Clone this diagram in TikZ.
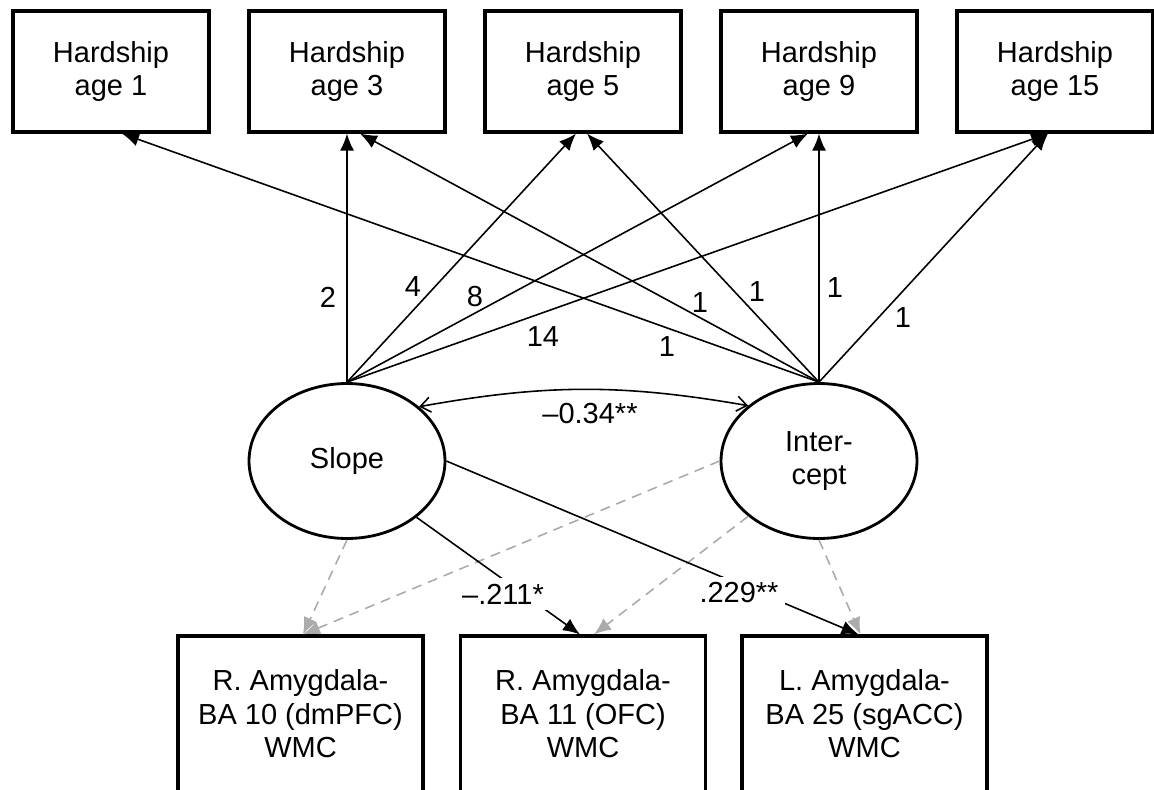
\documentclass[tikz,border=0pt]{standalone}
\usepackage{fontspec}
\setmainfont{Liberation Sans}
\usepackage{tikz}
\usetikzlibrary{arrows.meta,shapes.geometric}
\tikzstyle{every node}=[font=\fontsize{16.5pt}{19pt}\selectfont]
\tikzstyle{measure}=[draw=black,line width=1.8pt,rectangle,align=center,minimum width=3.92cm,minimum height=2.42cm,inner sep=0pt]
\tikzstyle{outcome}=[measure,minimum width=4.9cm,minimum height=3.12cm]
\tikzstyle{latent}=[draw=black,line width=1.6pt,ellipse,align=center,minimum width=3.92cm,minimum height=3.1cm,inner sep=0pt]
\tikzstyle{load}=[-{Latex[length=0.34cm,width=0.28cm]},line width=0.9pt]
\tikzstyle{nonsig}=[-{Latex[length=0.34cm,width=0.28cm]},line width=0.9pt,draw=black!33,dash pattern=on 0.2cm off 0.14cm]
\tikzstyle{covar}=[{Straight Barb[length=0.2cm,width=0.3cm]}-{Straight Barb[length=0.2cm,width=0.3cm]},line width=0.9pt]
\tikzstyle{coef}=[fill=white,inner sep=3.5pt]

\begin{document}
\begin{tikzpicture}[x=0.02cm,y=-0.02cm]
	\useasboundingbox (0,0) rectangle (1154,789);
	\clip (0,0) rectangle (1154,789);
	\node[measure] (h1) at (111,71.5) {Hardship\\age 1};
	\node[measure] (h2) at (347,71.5) {Hardship\\age 3};
	\node[measure] (h3) at (583,71.5) {Hardship\\age 5};
	\node[measure] (h4) at (819,71.5) {Hardship\\age 9};
	\node[measure] (h5) at (1055,71.5) {Hardship\\age 15};
	\node[latent] (slope) at (347,461) {Slope};
	\node[latent] (icpt) at (819,461) {Inter-\\cept};
	\node[outcome] (ra10) at (300.5,714) {R. Amygdala-\\BA 10 (dmPFC)\\WMC};
	\node[outcome] (ra11) at (583,714) {R. Amygdala-\\BA 11 (OFC)\\WMC};
	\node[outcome] (la25) at (864.5,714) {L. Amygdala-\\BA 25 (sgACC)\\WMC};

	\draw[load] (slope.north) -- (h2.south);
	\draw[load] (slope.north) -- ([xshift=-0.14cm]h3.south);
	\draw[load] (slope.north) -- ([xshift=-0.22cm]h4.south);
	\draw[load] (slope.north) -- ([xshift=-0.14cm]h5.south);
	\draw[load] (icpt.north) -- ([xshift=0.22cm]h1.south);
	\draw[load] (icpt.north) -- ([xshift=0.26cm]h2.south);
	\draw[load] (icpt.north) -- ([xshift=0.08cm]h3.south);
	\draw[load] (icpt.north) -- (h4.south);
	\draw[load] (icpt.north) -- ([xshift=-0.14cm]h5.south);
	\node (w2) at (328,297) {2};
	\node (w4) at (413,287) {4};
	\node (w8) at (475,297) {8};
	\node (w14) at (543,337) {14};
	\node (v1) at (667,347) {1};
	\node (v3) at (700,303) {1};
	\node (v5) at (757,292) {1};
	\node (v9) at (835,288) {1};
	\node (v15) at (903,318) {1};

	\draw[covar] (slope.37) to[bend left=10] (icpt.142);
	\node (cov) at (590,414) {--0.34**};

	\draw[nonsig] (slope.south) -- ([xshift=0.05cm]ra10.north);
	\draw[nonsig] (icpt.west) -- ([xshift=0.05cm]ra10.north);
	\draw[nonsig] (icpt.218) -- ([xshift=0.22cm]ra11.north);
	\draw[nonsig] (icpt.south) -- ([xshift=-0.08cm]la25.north);
	\draw[load] (slope.-39) -- ([xshift=-0.06cm]ra11.north);
	\draw[load] (slope.east) -- ([xshift=-0.12cm]la25.north);
	\node[coef] (b11) at (503,594) {--.211*};
	\node[coef] (b25) at (739,593) {.229**};
\end{tikzpicture}
\end{document}
